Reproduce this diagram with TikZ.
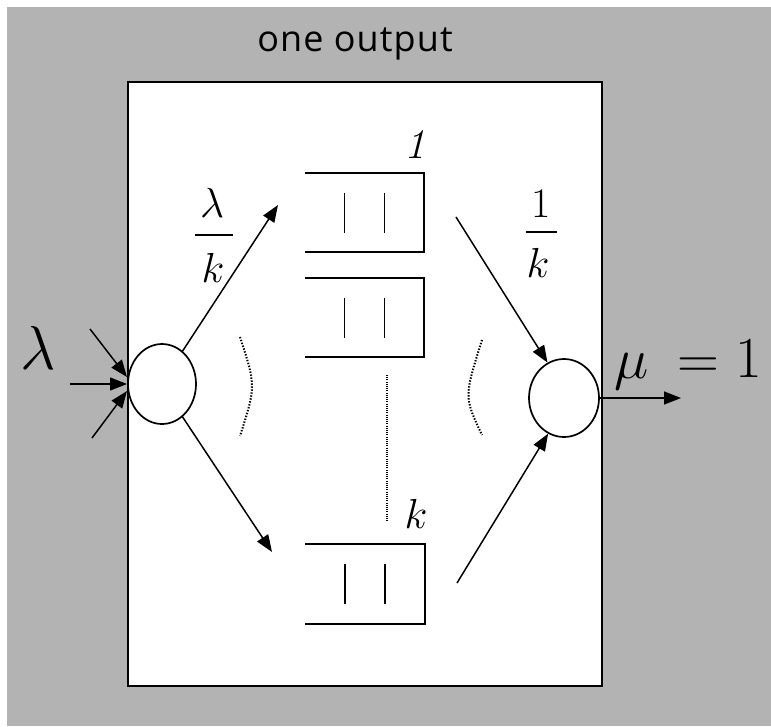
\RequirePackage{fix-cm}
\documentclass[tikz,border=0pt]{standalone}
\usepackage{fontspec}
\newfontfamily\labelfont{Open Sans}
\usetikzlibrary{arrows.meta,shapes.geometric}
\definecolor{bg}{RGB}{179,179,179}
\begin{document}
\begin{tikzpicture}[x=1pt,y=-1pt,
  qbox/.style={rectangle,minimum width=119pt,minimum height=79pt,inner sep=0pt},
  qline/.style={line width=1.7pt},
  srv/.style={ellipse,draw,line width=1.7pt,fill=white,inner sep=0pt},
  arr/.style={line width=1.5pt,-{Triangle[length=17pt,width=13pt]}},
  big/.style={font=\fontsize{58}{58}\selectfont,inner sep=0pt},
  mid/.style={font=\fontsize{42}{42}\selectfont,inner sep=0pt},
  dots/.style={line width=2pt,dash pattern=on 1.4pt off 1.6pt}]
\useasboundingbox (0,0) rectangle (771,726);
\fill[bg] (7,7) rectangle (771,726);
\node[draw,line width=2pt,fill=white,minimum width=474pt,minimum height=604pt,inner sep=0pt] (box) at (365,384) {};
\node[anchor=base,inner sep=0pt,font=\labelfont\fontsize{36}{36}\selectfont\addfontfeatures{LetterSpace=3}] (title) at (355,51) {one output};
% servers
\node[srv,minimum width=68pt,minimum height=80pt] (lc) at (162,384) {};
\node[srv,minimum width=70pt,minimum height=78pt] (rc) at (564,398) {};
% queues
\node[qbox] (q1) at (364.5,212.5) {};
\node[qbox] (q2) at (364.5,317.5) {};
\node[qbox] (qk) at (365,584) {};
\foreach \q in {q1,q2,qk}{
  \draw[qline] (\q.north west) -- (\q.north east) -- (\q.south east) -- (\q.south west);
  \draw[qline] ([xshift=-20pt,yshift=20pt]\q.center) -- ([xshift=-20pt,yshift=-20pt]\q.center);
  \draw[qline] ([xshift=20pt,yshift=20pt]\q.center) -- ([xshift=20pt,yshift=-20pt]\q.center);
}
\node[mid,anchor=base] (l1) at (415,158) {\itshape 1};
\node[mid,anchor=base] (lk) at (416,528) {$k$};
% dotted marks
\draw[dots] (240,337) .. controls (256,386) .. (240,436);
\draw[dots] (482,340) .. controls (464,397) .. (482,435);
\draw[line width=1.2pt,dash pattern=on 1pt off 1.2pt] (387,375) -- (387,522);
% input arrows
\coordinate (i1) at (90,329);
\coordinate (i2) at (70,384);
\coordinate (i3) at (92,438);
\coordinate (e1) at (127,377);
\coordinate (e2) at (127,384);
\coordinate (e3) at (127,391);
\draw[arr] (i1) -- (e1);
\draw[arr] (i2) -- (e2);
\draw[arr] (i3) -- (e3);
\node[big,anchor=base,font=\fontsize{62}{62}\selectfont] (lam) at (38,369) {$\lambda$};
% routing arrows
\coordinate (t1) at (278,205);
\coordinate (tk) at (272,552);
\coordinate (s1) at (456,217);
\coordinate (sk) at (457,583);
\draw[arr] (lc.58) -- (t1);
\draw[arr] (lc.-58) -- (tk);
\draw[arr] (s1) -- (rc.115);
\draw[arr] (sk) -- (rc.246);
% output
\coordinate (o) at (681,398);
\draw[arr] (rc.east) -- (o);
\node[big,anchor=base] (mu) at (632,378) {$\mu$};
\node[big,anchor=base] (eq) at (698,378) {=};
\node[big,anchor=base] (one) at (749,377) {1};
% fractions
\node[mid,anchor=base] (fl) at (212,217) {$\lambda$};
\draw[line width=1.6pt] (195,235) -- (233,235);
\node[mid,anchor=base] (fk) at (213,282) {$k$};
\node[mid,anchor=base] (f1) at (541,217) {1};
\draw[line width=1.6pt] (526,232) -- (557,232);
\node[mid,anchor=base] (fk2) at (538,277) {$k$};
\end{tikzpicture}
\end{document}
